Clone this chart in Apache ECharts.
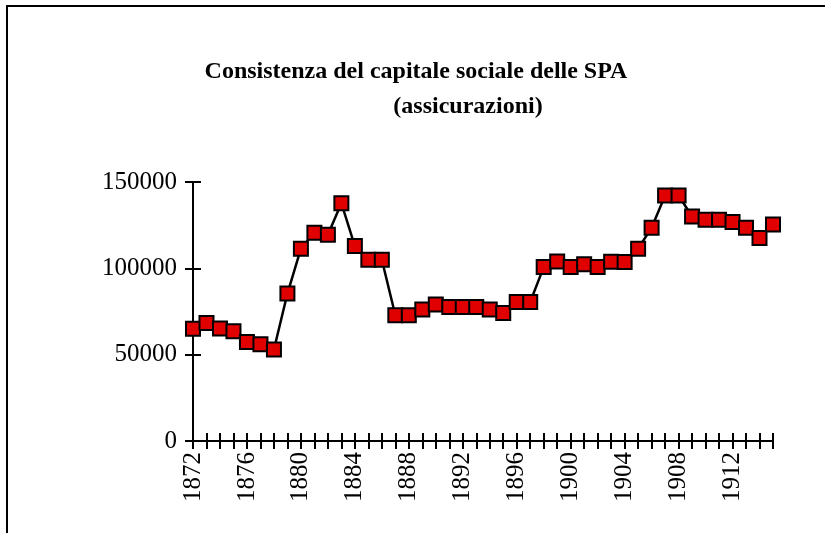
<!DOCTYPE html>
<html>
<head>
<meta charset="utf-8">
<script src="https://cdn.jsdelivr.net/npm/echarts@6/dist/echarts.min.js"></script>
<style>
  html, body { margin: 0; padding: 0; background: #fff; }
  #frame {
    position: absolute; left: 6px; top: 5px; width: 900px; height: 600px;
    border-left: 2px solid #000; border-top: 2px solid #000;
  }
  #main { position: absolute; left: 0; top: 0; width: 825px; height: 533px; }
</style>
</head>
<body>
<div id="frame"></div>
<div id="main"></div>
<script>
// anni
const years = [];
for (let y = 1872; y <= 1915; y++) years.push(String(y));

// capitale sociale
const capitale = [
  65000, 68400, 65100, 63600, 57400, 56100, 53000, 85400, 111400, 120600,
  119400, 137700, 112900, 105000, 105000, 72800, 72800, 76100, 79000, 77600,
  77600, 77600, 76100, 74200, 80500, 80500, 100700, 104000, 100700, 102300,
  100700, 103800, 103600, 111400, 123500, 142200, 142200, 130000, 128100, 128100,
  126800, 123500, 117500, 125400
];

const yTicks = [0, 50000, 100000, 150000];

const titolo1 = 'Consistenza del capitale sociale delle SPA';
const titolo2 = '(assicurazioni)';

const font = 'Liberation Serif, Times New Roman, serif';

const chart = echarts.init(document.getElementById('main'));

const option = {
  animation: false,
  title: [
    {
      text: titolo1, left: 411, top: 55, textAlign: 'center',
      textStyle: { fontFamily: font, fontSize: 24, fontWeight: 'bold', color: '#000' }
    },
    {
      text: titolo2, left: 463, top: 90, textAlign: 'center',
      textStyle: { fontFamily: font, fontSize: 24, fontWeight: 'bold', color: '#000' }
    }
  ],
  grid: { left: 193, right: 52, top: 182, bottom: 92 },
  xAxis: [
    {
      type: 'category', data: years, boundaryGap: false,
      axisLine: { lineStyle: { color: '#000', width: 2 } },
      axisTick: { alignWithLabel: true, interval: 0, length: 8, lineStyle: { color: '#000', width: 2 } },
      axisLabel: {
        interval: 3, rotate: 90, margin: 11,
        fontFamily: font, fontSize: 25, color: '#000'
      },
      splitLine: { show: false }
    },
    {
      // tacche interne (le tacche di Excel attraversano l'asse)
      type: 'category', data: years, boundaryGap: false, position: 'bottom',
      axisLine: { show: false },
      axisTick: { show: true, inside: true, interval: 0, length: 8, lineStyle: { color: '#000', width: 2 } },
      axisLabel: { show: false },
      splitLine: { show: false }
    }
  ],
  yAxis: [
    {
      type: 'value', min: yTicks[0], max: yTicks[yTicks.length - 1], interval: yTicks[1] - yTicks[0],
      axisLine: { show: true, lineStyle: { color: '#000', width: 2 } },
      axisTick: { show: true, length: 8, lineStyle: { color: '#000', width: 2 } },
      axisLabel: {
        margin: 16, fontFamily: font, fontSize: 25, color: '#000',
        formatter: function (v) { return String(v); }
      },
      splitLine: { show: false }
    },
    {
      type: 'value', min: yTicks[0], max: yTicks[yTicks.length - 1], interval: yTicks[1] - yTicks[0],
      position: 'left',
      axisLine: { show: false },
      axisTick: { show: true, inside: true, length: 8, lineStyle: { color: '#000', width: 2 } },
      axisLabel: { show: false },
      splitLine: { show: false }
    }
  ],
  series: [
    {
      type: 'line', data: capitale,
      symbol: 'rect', symbolSize: 14, showAllSymbol: true,
      lineStyle: { color: '#000', width: 2.5 },
      itemStyle: { color: '#e00000', borderColor: '#000', borderWidth: 2 },
      z: 5
    }
  ]
};

chart.setOption(option);
</script>
</body>
</html>
